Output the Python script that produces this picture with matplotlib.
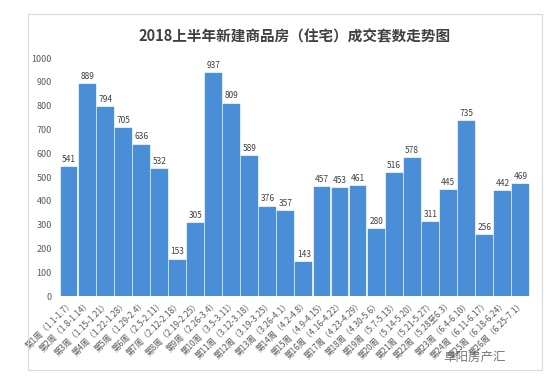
import matplotlib.pyplot as plt
from matplotlib.patches import Rectangle

plt.rcParams['font.family'] = ['Noto Sans CJK SC', 'DejaVu Sans']

weeks = ['第1周（1.1-1.7）', '第2周（1.8-1.14）', '第3周（1.15-1.21）', '第4周（1.22-1.28）',
         '第5周（1.29-2.4）', '第6周（2.5-2.11）', '第7周（2.12-2.18）', '第8周（2.19-2.25）',
         '第9周（2.26-3.4）', '第10周（3.5-3.11）', '第11周（3.12-3.18）', '第12周（3.19-3.25）',
         '第13周（3.26-4.1）', '第14周（4.2-4.8）', '第15周（4.9-4.15）', '第16周（4.16-4.22）',
         '第17周（4.23-4.29）', '第18周（4.30-5.6）', '第19周（5.7-5.13）', '第20周（5.14-5.20）',
         '第21周（5.21-5.27）', '第22周（5.28至6.3）', '第23周（6.4-6.10）', '第24周（6.11-6.17）',
         '第25周（6.18-6.24）', '第26周（6.25-7.1）']
sales = [541, 889, 794, 705, 636, 532, 153, 305, 937, 809, 589, 376, 357,
         143, 457, 453, 461, 280, 516, 578, 311, 445, 735, 256, 442, 469]

fig = plt.figure(figsize=(5.46, 3.82), dpi=100)
fig.patches.append(Rectangle((28 / 546, 12 / 382), 514 / 546, 356 / 382,
                             transform=fig.transFigure, fill=False,
                             edgecolor='#d9d9d9', linewidth=0.8))
ax = fig.add_axes([0.11, 0.225, 0.86, 0.623])

x = range(len(sales))
ax.bar(x, sales, width=0.93, color='#4a8ed8', edgecolor='#5b9bd5', linewidth=0.3)
for xi, v in zip(x, sales):
    ax.text(xi, v + 14, str(v), ha='center', va='bottom', fontsize=6, color='#404040')

ax.set_xlim(-0.5, len(sales) - 0.5)
ax.set_ylim(0, 1000)
ax.set_yticks(range(0, 1001, 100))
ax.tick_params(axis='y', length=0, labelsize=6.5, labelcolor='#595959', pad=6)
ax.set_xticks(list(x))
ax.set_xticklabels(weeks, rotation=45, ha='right', rotation_mode='anchor',
                   fontsize=6, color='#595959')
ax.tick_params(axis='x', length=0, pad=2)
for s in ax.spines.values():
    s.set_visible(False)

fig.text(0.54, 0.905, '2018上半年新建商品房（住宅）成交套数走势图', ha='center', va='center',
         fontsize=10.5, fontweight='bold', color='#404040')
fig.text(0.87, 0.065, '阜阳房产汇', ha='center', va='center', fontsize=9, color='#555555', alpha=0.8)

fig.savefig('out.png', dpi=100)
